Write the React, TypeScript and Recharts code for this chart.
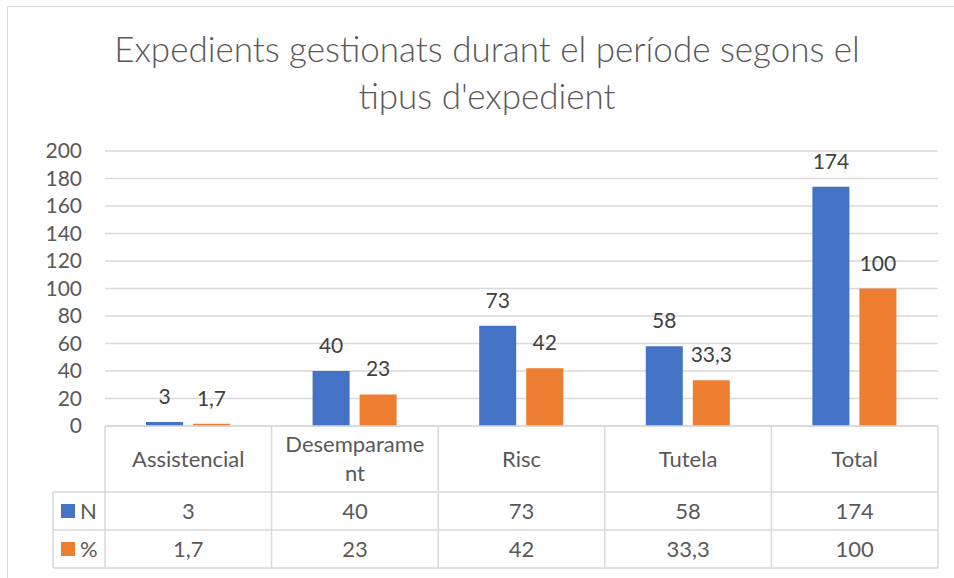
import React from "react";
import { BarChart, Bar, XAxis, YAxis, CartesianGrid, LabelList } from "recharts";

const titleLines = ["Expedients gestionats durant el període segons el", "tipus d'expedient"];
const categories = ["Assistencial", "Desemparament", "Risc", "Tutela", "Total"];
const nValues = [3, 40, 73, 58, 174];
const pctValues = [1.7, 23, 42, 33.3, 100];
const seriesNames = ["N", "%"];
const seriesColors = ["#4472C4", "#ED7D31"];
const yTicks = [0, 20, 40, 60, 80, 100, 120, 140, 160, 180, 200];

const data = categories.map((c, i) => ({ cat: c, n: nValues[i], pct: pctValues[i] }));

const FONT = "Lato, 'Open Sans', sans-serif";
const TEXT = "#595959";
const LINE = "#d9d9d9";

const fmt = (v: number) => String(v).replace(".", ",");

// header row 66px, then two value rows of 38px
const HEAD_H = 66;
const ROW_H = 38;
const LEGEND_W = 52;

function splitLabel(s: string): string[] {
    if (s.length > 12) return [s.slice(0, 11), s.slice(11)];
    return [s];
}

const TableTick = (props: any) => {
    const { x, y, payload, index } = props;
    const half = payload.offset;
    const l = x - half;
    const r = x + half;
    const rows = [nValues[index], pctValues[index]];
    const lines = splitLabel(String(payload.value));
    const bottom = y + HEAD_H + ROW_H * 2;
    return (
        <g>
            {index === 0 && (
                <g>
                    <line x1={l} x2={l} y1={y} y2={bottom} stroke={LINE} strokeWidth={1.5} />
                    <line x1={l - LEGEND_W} x2={l - LEGEND_W} y1={y + HEAD_H} y2={bottom} stroke={LINE} strokeWidth={1.5} />
                    {[0, 1, 2].map((k) => (
                        <line key={k} x1={l - LEGEND_W} x2={l} y1={y + HEAD_H + ROW_H * k} y2={y + HEAD_H + ROW_H * k} stroke={LINE} strokeWidth={1.5} />
                    ))}
                    {seriesNames.map((s, k) => (
                        <g key={s}>
                            <rect x={l - LEGEND_W + 8} y={y + HEAD_H + ROW_H * k + 12} width={14} height={14} fill={seriesColors[k]} />
                            <text x={l - LEGEND_W + 27} y={y + HEAD_H + ROW_H * k + ROW_H / 2} dy="0.35em" fill={TEXT} fontSize={22} fontFamily={FONT}>
                                {s}
                            </text>
                        </g>
                    ))}
                </g>
            )}
            <line x1={r} x2={r} y1={y} y2={bottom} stroke={LINE} strokeWidth={1.5} />
            {[0, 1].map((k) => (
                <line key={k} x1={l} x2={r} y1={y + HEAD_H + ROW_H * k} y2={y + HEAD_H + ROW_H * k} stroke={LINE} strokeWidth={1.5} />
            ))}
            <line x1={l} x2={r} y1={bottom} y2={bottom} stroke={LINE} strokeWidth={1.5} />
            {lines.map((t, k) => (
                <text key={k} x={x} y={y + HEAD_H / 2 + (k - (lines.length - 1) / 2) * 29} dy="0.35em" textAnchor="middle" fill={TEXT} fontSize={22} fontFamily={FONT}>
                    {t}
                </text>
            ))}
            {rows.map((v, k) => (
                <text key={k} x={x} y={y + HEAD_H + ROW_H * k + ROW_H / 2} dy="0.35em" textAnchor="middle" fill={TEXT} fontSize={22} fontFamily={FONT}>
                    {fmt(v)}
                </text>
            ))}
        </g>
    );
};

export default function App() {
    return (
        <div style={{ position: "absolute", left: 0, top: 0, width: 954, height: 578, overflow: "hidden", background: "#fff" }}>
            <div style={{ position: "absolute", left: 7, top: 6, width: 980, height: 600, border: `1.5px solid ${LINE}` }} />
            <div style={{ position: "absolute", left: 0, top: 25, width: 974, textAlign: "center", fontFamily: FONT, fontSize: 35, fontWeight: 300, color: TEXT, lineHeight: "47px" }}>
                {titleLines.map((t) => (
                    <div key={t}>{t}</div>
                ))}
            </div>
            <div style={{ position: "absolute", left: 0, top: 0 }}>
                <BarChart width={954} height={578} data={data} margin={{ top: 151, right: 16, bottom: 0, left: 0 }} barSize={37} barGap={10}>
                    <CartesianGrid vertical={false} stroke={LINE} strokeWidth={1.5} />
                    <XAxis
                        dataKey="cat"
                        height={152}
                        tickSize={0}
                        tickMargin={0}
                        axisLine={{ stroke: LINE, strokeWidth: 1.5 }}
                        tickLine={false}
                        interval={0}
                        tick={<TableTick />}
                    />
                    <YAxis
                        width={105}
                        domain={[0, 200]}
                        ticks={yTicks}
                        interval={0}
                        axisLine={false}
                        tickLine={false}
                        tickMargin={17}
                        tick={{ fill: TEXT, fontSize: 21, fontFamily: FONT }}
                    />
                    <Bar dataKey="n" name={seriesNames[0]} fill={seriesColors[0]} isAnimationActive={false}>
                        <LabelList dataKey="n" position="top" offset={18} fill="#404040" fontSize={21} fontFamily={FONT} formatter={(v: any) => fmt(v)} />
                    </Bar>
                    <Bar dataKey="pct" name={seriesNames[1]} fill={seriesColors[1]} isAnimationActive={false}>
                        <LabelList dataKey="pct" position="top" offset={18} fill="#404040" fontSize={21} fontFamily={FONT} formatter={(v: any) => fmt(v)} />
                    </Bar>
                </BarChart>
            </div>
        </div>
    );
}
